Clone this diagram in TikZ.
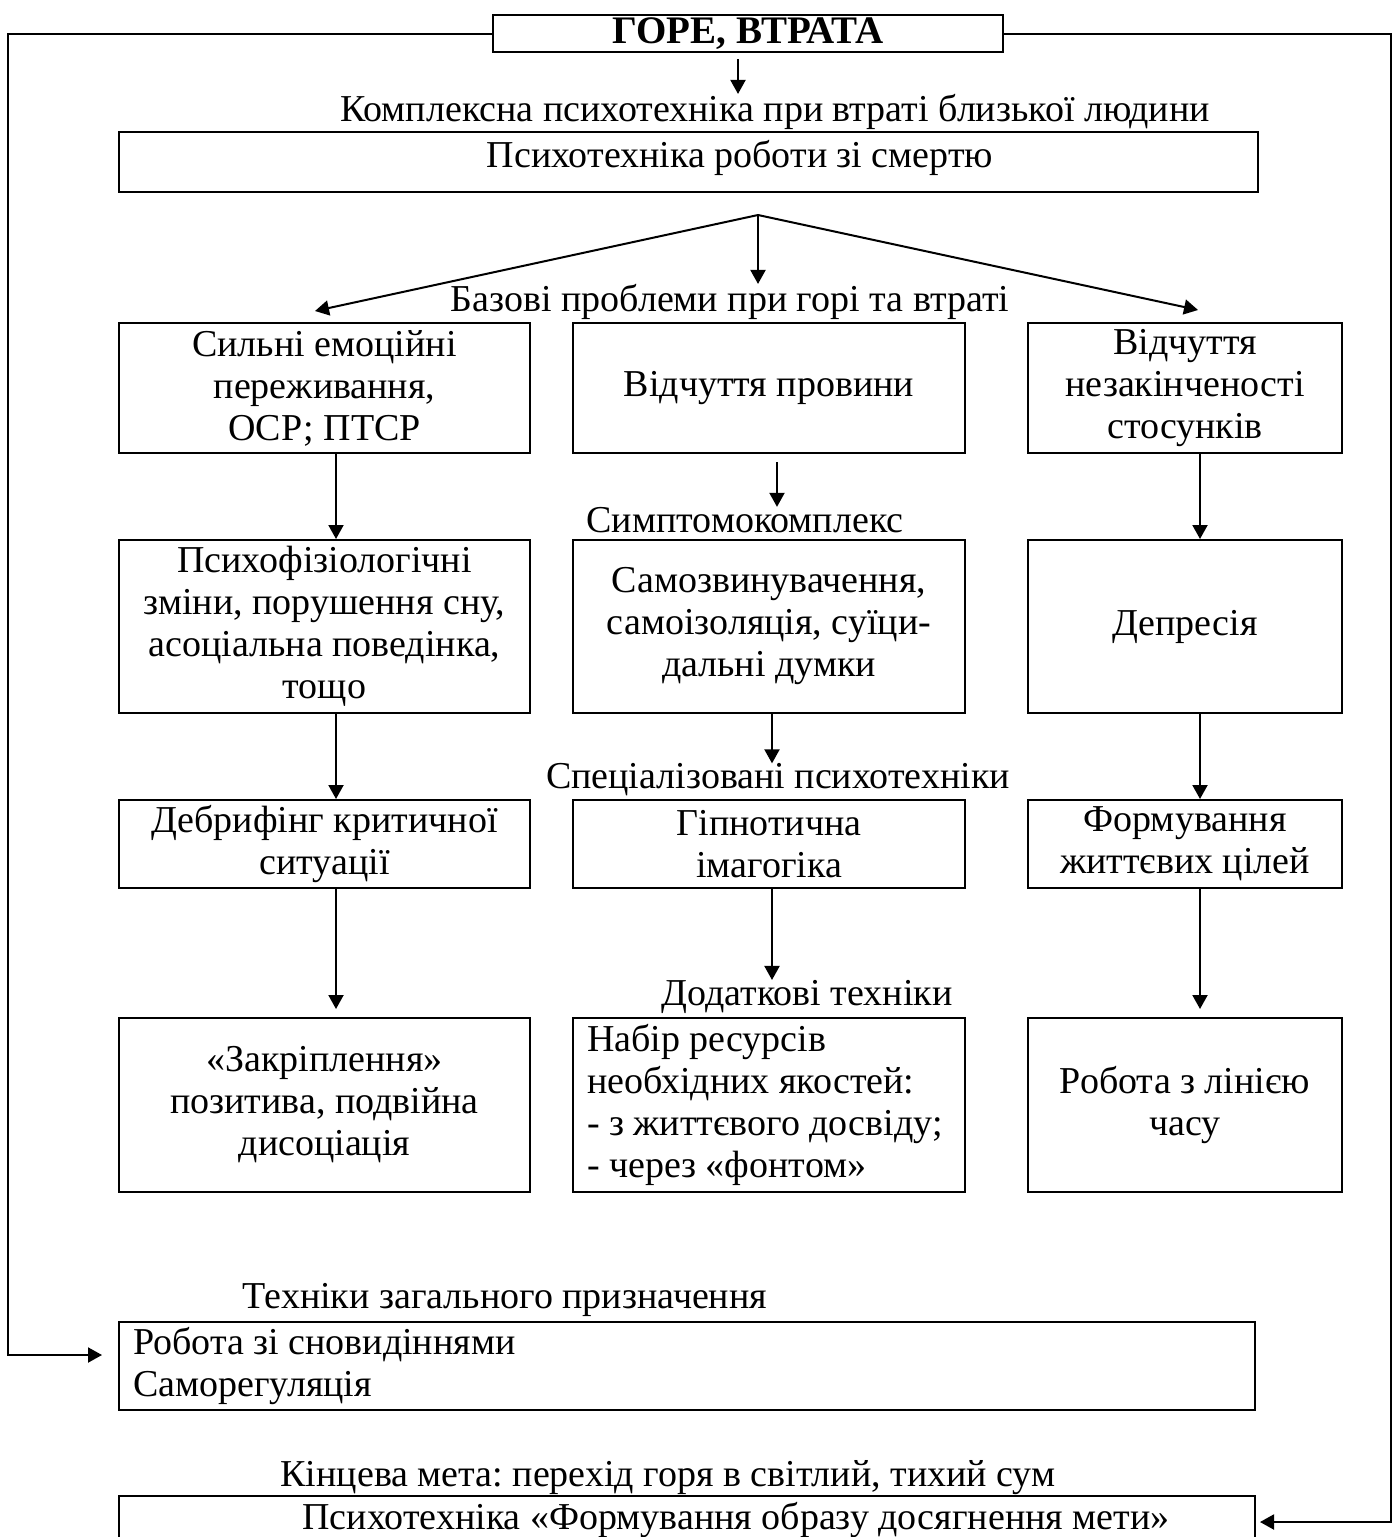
\documentclass[tikz,border=0pt]{standalone}
\usepackage{fontspec}
\setmainfont{Liberation Serif}
\frenchspacing
\usetikzlibrary{positioning}
\usetikzlibrary{arrows.meta}
\tikzset{>={Triangle[length=7pt,width=7.5pt]}}
\tikzset{box/.style={draw, line width=1pt, align=center, inner sep=0pt}}
\tikzset{lbl/.style={inner sep=0pt}}
\tikzset{arr/.style={->, line width=1pt}}

\begin{document}
\begin{tikzpicture}[x=0.5pt, y=-0.5pt, font=\fontsize{19}{21}\selectfont]
\useasboundingbox (0,0) rectangle (1397,1537);

\node[box, minimum width=255pt, minimum height=18.5pt, font=\fontsize{19.5}{21}\selectfont\bfseries] (grief) at (748,33.5) {ГОРЕ, ВТРАТА};

\node[lbl] (cmplx) at (775,112) {Комплексна психотехніка при втраті близької людини};
\node[box, minimum width=569.5pt, minimum height=30pt] (dth) at (688.5,162) {};
\node[lbl] (dthtxt) at (740,158) {Психотехніка роботи зі смертю};
\coordinate (fork) at (758,215);

\node[lbl] (base) at (730,302) {Базові проблеми при горі та втраті};

% row 1
\node[box, minimum width=205.5pt, minimum height=65pt] (l1) at (324.5,388) {Сильні емоційні\\переживання,\\ОСР; ПТСР};
\node[box, minimum width=196pt, minimum height=65pt] (m1) at (769,388) {Відчуття провини};
\node[box, minimum width=157pt, minimum height=65pt] (r1) at (1185,388) {Відчуття\\незакінченості\\стосунків};

\node[lbl] (symp) at (745,520) {Симптомокомплекс};

% row 2
\node[box, minimum width=205.5pt, minimum height=86.5pt] (l2) at (324.5,626.5) {Психофізіологічні\\зміни, порушення сну,\\асоціальна поведінка,\\тощо};
\node[box, minimum width=196pt, minimum height=86.5pt] (m2) at (769,626.5) {Самозвинувачення,\\самоізоляція, суїци-\\дальні думки};
\node[box, minimum width=157pt, minimum height=86.5pt] (r2) at (1185,626.5) {Депресія};

\node[lbl] (spec) at (778,780) {Спеціалізовані психотехніки};

% row 3
\node[box, minimum width=205.5pt, minimum height=44pt] (l3) at (324.5,844) {Дебрифінг критичної\\ситуації};
\node[box, minimum width=196pt, minimum height=44pt] (m3) at (769,844) {Гіпнотична\\імагогіка};
\node[box, minimum width=157pt, minimum height=44pt] (r3) at (1185,844) {Формування\\життєвих цілей};

\node[lbl] (dod) at (807,997) {Додаткові техніки};

% row 4
\node[box, minimum width=205.5pt, minimum height=87pt] (l4) at (324.5,1105) {«Закріплення»\\позитива, подвійна\\дисоціація};
\node[box, align=flush left, text width=182pt, inner xsep=7pt, minimum height=87pt] (m4) at (769,1105) {Набір ресурсів\\необхідних якостей:\\- з життєвого досвіду;\\- через «фонтом»};
\node[box, minimum width=157pt, minimum height=87pt] (r4) at (1185,1105) {Робота з лінією\\часу};

% general techniques and the final goal
\node[lbl] (gentxt) at (505,1300) {Техніки загального призначення};
\node[box, align=flush left, text width=554pt, inner xsep=7pt, minimum height=44pt] (gen) at (687,1366) {Робота зі сновидіннями\\Саморегуляція};
\node[lbl] (goal) at (668,1478) {Кінцева мета: перехід горя в світлий, тихий сум};
\node[box, minimum width=568pt, minimum height=26pt] (fin) at (687,1522) {};
\node[lbl] (fintxt) at (736,1520) {Психотехніка «Формування образу досягнення мети»};

% arrows
\draw[arr] ([xshift=-5pt,yshift=-3pt]grief.south) -- ([xshift=-5pt]grief.south |- cmplx.north);
\draw[line width=1pt] (fork) -- ([yshift=-11.5pt]dth.south -| fork);
\draw[arr] (fork) -- ([xshift=-4.75pt,yshift=5.5pt]l1.north);
\draw[arr] (fork) -- (fork |- base.north);
\draw[arr] (fork) -- ([xshift=6.5pt,yshift=6pt]r1.north);

\draw[arr] ([xshift=5.75pt]l1.south) -- ([xshift=5.75pt]l2.north);
\draw[arr] ([xshift=4pt,yshift=-4pt]m1.south) -- ([xshift=4pt]m1.south |- symp.north);
\draw[arr] ([xshift=7.5pt]r1.south) -- ([xshift=7.5pt]r2.north);

\draw[arr] ([xshift=5.75pt]l2.south) -- ([xshift=5.75pt]l3.north);
\draw[arr] ([xshift=1.5pt]m2.south) -- ([xshift=1.5pt]m2.south |- spec.north);
\draw[arr] ([xshift=7.5pt]r2.south) -- ([xshift=7.5pt]r3.north);

\draw[arr] ([xshift=5.75pt]l3.south) -- ([xshift=5.75pt,yshift=4pt]l4.north);
\draw[arr] ([xshift=1.5pt]m3.south) -- ([xshift=1.5pt]m3.south |- dod.north);
\draw[arr] ([xshift=7.5pt]r3.south) -- ([xshift=7.5pt,yshift=4pt]r4.north);

% frame lines round the whole scheme
\draw[arr, shorten >=8pt] (grief.west) -- ++(-484,0) |- ([yshift=5.5pt]gen.west);
\draw[arr, shorten >=2pt] (grief.east) -- ++(387,0) |- (fin.east);
\end{tikzpicture}
\end{document}
